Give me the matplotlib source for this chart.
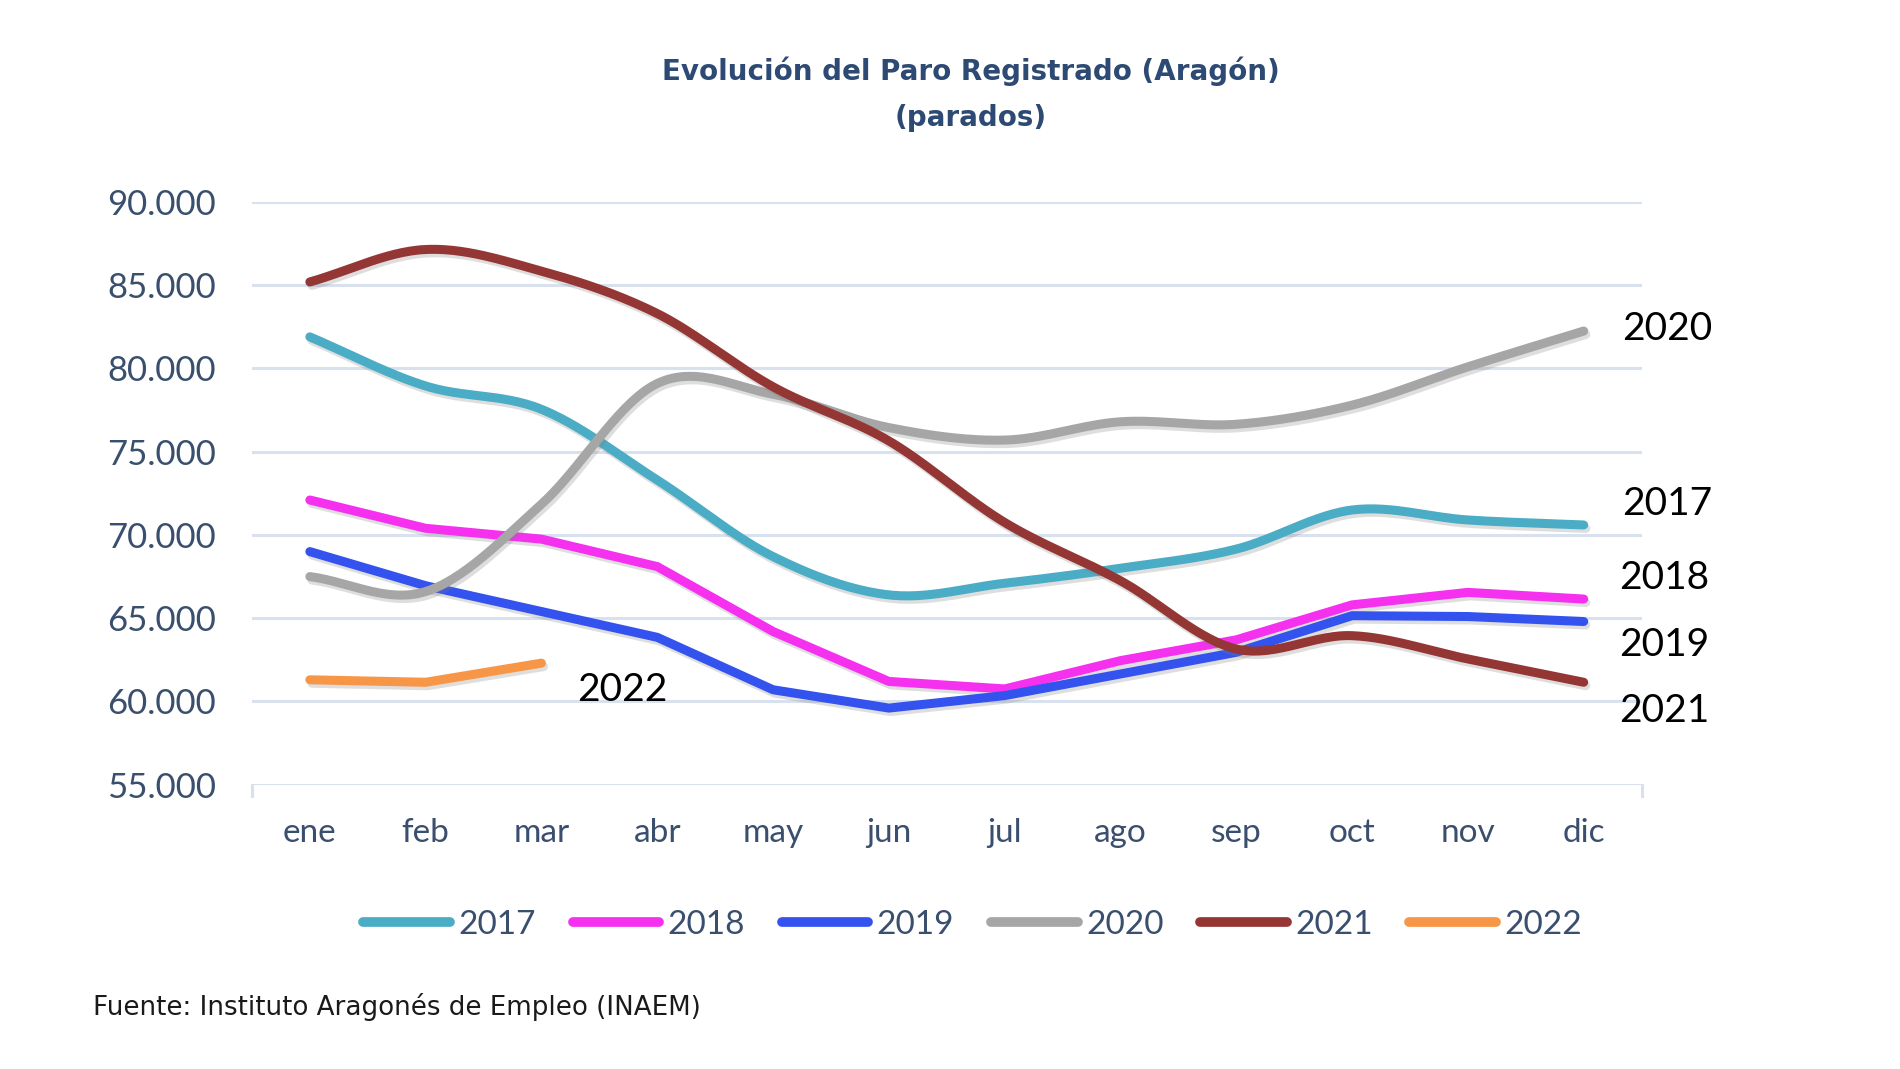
import numpy as np
import matplotlib
matplotlib.use("Agg")
import matplotlib.pyplot as plt
import matplotlib.patheffects as pe

months = ["ene", "feb", "mar", "abr", "may", "jun", "jul", "ago", "sep", "oct", "nov", "dic"]
y_ticks = [55000, 60000, 65000, 70000, 75000, 80000, 85000, 90000]
y_tick_labels = ["55.000", "60.000", "65.000", "70.000", "75.000", "80.000", "85.000", "90.000"]

s2017 = [81900, 78950, 77550, 73300, 68700, 66400, 67100, 68000, 69150, 71500, 70900, 70600]
s2018 = [72100, 70400, 69750, 68100, 64200, 61200, 60750, 62450, 63700, 65800, 66550, 66150]
s2019 = [69000, 66950, 65400, 63850, 60700, 59600, 60350, 61650, 62950, 65150, 65100, 64800]
s2020 = [67500, 66600, 71850, 79100, 78450, 76450, 75700, 76800, 76650, 77800, 80100, 82250]
s2021 = [85200, 87150, 85850, 83300, 78900, 75650, 70750, 67250, 63150, 63950, 62550, 61150]
s2022 = [61300, 61150, 62300]

years = ["2017", "2018", "2019", "2020", "2021", "2022"]
series = [s2017, s2018, s2019, s2020, s2021, s2022]
colors = ["#4BACC6", "#F530EE", "#3352EE", "#A6A6A6", "#943634", "#F79646"]
smooth = [True, False, False, True, True, False]

label_pos = {"2020": (11.33, 82400), "2017": (11.33, 71850), "2018": (11.31, 67400),
             "2019": (11.31, 63400), "2021": (11.31, 59400), "2022": (2.31, 60700)}

TXT = "#3A4F6E"


def catmull(x, y, n=30):
    x = np.asarray(x, float)
    y = np.asarray(y, float)
    if len(x) < 3:
        return x, y
    px = np.concatenate([[2 * x[0] - x[1]], x, [2 * x[-1] - x[-2]]])
    py = np.concatenate([[2 * y[0] - y[1]], y, [2 * y[-1] - y[-2]]])
    xs, ys = [], []
    t = np.linspace(0, 1, n, endpoint=False)
    for i in range(1, len(px) - 2):
        p0, p1, p2, p3 = py[i - 1], py[i], py[i + 1], py[i + 2]
        q0, q1, q2, q3 = px[i - 1], px[i], px[i + 1], px[i + 2]
        c1y = p1 + (p2 - p0) / 6
        c2y = p2 - (p3 - p1) / 6
        c1x = q1 + (q2 - q0) / 6
        c2x = q2 - (q3 - q1) / 6
        b0 = (1 - t) ** 3
        b1 = 3 * (1 - t) ** 2 * t
        b2 = 3 * (1 - t) * t ** 2
        b3 = t ** 3
        ys.append(b0 * p1 + b1 * c1y + b2 * c2y + b3 * p2)
        xs.append(b0 * q1 + b1 * c1x + b2 * c2x + b3 * q2)
    xs.append([x[-1]])
    ys.append([y[-1]])
    return np.concatenate(xs), np.concatenate(ys)


fig = plt.figure(figsize=(19.0, 10.69), dpi=100)
fig.patch.set_facecolor("white")
ax = fig.add_axes([0.1326, 0.266, 0.864 - 0.1326, 0.811 - 0.266])

for v in y_ticks:
    ax.axhline(v, color="#D9E1EE", lw=2.2, zorder=1)

shadow = [pe.SimpleLineShadow(offset=(1.5, -2.5), shadow_color="#7F7F7F", alpha=0.25), pe.Normal()]
handles = []
for yr, s, c, sm in zip(years, series, colors, smooth):
    x = np.arange(len(s))
    if sm:
        xx, yy = catmull(x, s)
    else:
        xx, yy = x, np.asarray(s, float)
    ln, = ax.plot(xx, yy, color=c, lw=6.5, solid_capstyle="round", solid_joinstyle="round",
                  zorder=3, label=yr, clip_on=False, path_effects=shadow)
    handles.append(ln)

for yr, (lx, ly) in label_pos.items():
    ax.text(lx, ly, yr, fontsize=28, family=["Lato", "DejaVu Sans"], color="black",
            ha="left", va="center", zorder=4)

ax.set_xlim(-0.5, 11.5)
ax.set_ylim(55000, 90000)
ax.set_xticks(range(12))
ax.set_xticklabels(months)
ax.set_yticks(y_ticks)
ax.set_yticklabels(y_tick_labels)
for sp in ["top", "right", "left", "bottom"]:
    ax.spines[sp].set_visible(False)
ax.tick_params(axis="both", length=0, colors=TXT)
ax.tick_params(axis="x", pad=24, labelsize=24)
ax.tick_params(axis="y", pad=26, labelsize=25)
for lab in ax.get_xticklabels() + ax.get_yticklabels():
    lab.set_family(["Lato", "DejaVu Sans"])
    lab.set_color(TXT)
# small end ticks on the baseline
for xe in (-0.5, 11.5):
    ax.plot([xe, xe], [55000, 55000 - 700], color="#D9E1EE", lw=2.2, clip_on=False, zorder=1)

fig.text(0.511, 0.9336, "Evolución del Paro Registrado (Aragón)", ha="center", va="center",
         fontsize=20, fontweight="bold", color="#2C4A74", family="DejaVu Sans")
fig.text(0.511, 0.8896, "(parados)", ha="center", va="center",
         fontsize=20, fontweight="bold", color="#2C4A74", family="DejaVu Sans")

leg = fig.legend(handles=handles, labels=years, loc="center", bbox_to_anchor=(0.512, 0.135),
                 ncol=6, frameon=False, handlelength=2.6, handletextpad=0.25, columnspacing=1.1,
                 prop={"family": ["Lato", "DejaVu Sans"], "size": 24})
for t in leg.get_texts():
    t.set_color(TXT)
for lh in leg.get_lines():
    lh.set_linewidth(7)
    lh.set_path_effects([])

fig.text(0.049, 0.058, "Fuente: Instituto Aragonés de Empleo (INAEM)", ha="left", va="center",
         fontsize=18.8, color="#1A1A1A", family="DejaVu Sans")

fig.savefig("out.png", dpi=100, facecolor="white")
